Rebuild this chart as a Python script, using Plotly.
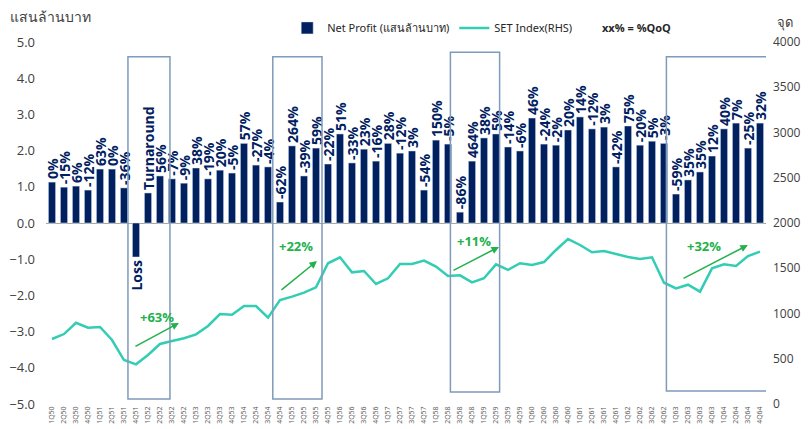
import plotly.graph_objects as go

quarters = ["1Q50","2Q50","3Q50","4Q50","1Q51","2Q51","3Q51","4Q51","1Q52","2Q52","3Q52","4Q52",
            "1Q53","2Q53","3Q53","4Q53","1Q54","2Q54","3Q54","4Q54","1Q55","2Q55","3Q55","4Q55",
            "1Q56","2Q56","3Q56","4Q56","1Q57","2Q57","3Q57","4Q57","1Q58","2Q58","3Q58","4Q58",
            "1Q59","2Q59","3Q59","4Q59","1Q60","2Q60","3Q60","4Q60","1Q61","2Q61","3Q61","4Q61",
            "1Q62","2Q62","3Q62","4Q62","1Q63","2Q63","3Q63","4Q63","1Q64","2Q64","3Q64","4Q64"]

net_profit = [1.13, 0.99, 1.02, 0.91, 1.49, 1.49, 0.97, -0.94, 0.83, 1.30, 1.22, 1.10,
              1.52, 1.22, 1.46, 1.38, 2.20, 1.60, 1.55, 0.58, 2.13, 1.30, 2.07, 1.63,
              2.46, 1.66, 2.04, 1.71, 2.20, 1.93, 1.99, 0.91, 2.29, 2.18, 0.30, 1.71,
              2.35, 2.46, 2.10, 1.99, 2.90, 2.18, 2.15, 2.57, 2.93, 2.60, 2.65, 1.55,
              2.68, 2.15, 2.26, 2.20, 0.80, 1.19, 1.41, 1.85, 2.60, 2.76, 2.07, 2.76]

qoq_labels = ["0%","-15%","6%","-12%","63%","0%","-36%","Loss","Turnaround","56%","-7%","-9%",
              "38%","-19%","20%","-5%","57%","-27%","-4%","-62%","264%","-39%","59%","-22%",
              "51%","-33%","23%","-16%","28%","-12%","3%","-54%","150%","-5%","-86%","464%",
              "38%","5%","-14%","-6%","46%","-24%","-2%","20%","14%","-12%","3%","-42%",
              "75%","-20%","5%","-3%","-59%","35%","35%","12%","40%","7%","-25%","32%"]

set_index = [718, 773, 898, 843, 851, 707, 486, 438, 541, 663, 696, 726,
             770, 862, 994, 987, 1083, 1083, 954, 1149, 1186, 1230, 1289, 1555,
             1621, 1455, 1470, 1326, 1389, 1547, 1547, 1584, 1518, 1414, 1422, 1344,
             1389, 1543, 1481, 1555, 1536, 1569, 1702, 1823, 1757, 1676, 1691, 1654,
             1624, 1602, 1621, 1340, 1278, 1318, 1241, 1499, 1543, 1525, 1635, 1683]

# highlight boxes: (x0, x1, y0, y1) in category-index / left-axis units
boxes = [(6.33, 9.83, -4.86, 4.59), (18.4, 22.5, -4.86, 4.59),
         (33.2, 37.3, -4.67, 4.72), (51.2, 59.7, -4.64, 4.59)]
# growth arrows: tail x, tail y, head x, head y, label, label x, label y
arrows = [(6.83, -3.43, 10.58, -2.76, "+63%", 8.75, -2.60),
          (19.0, -1.88, 22.08, -1.05, "+22%", 20.33, -0.64),
          (33.33, -1.33, 37.25, -0.66, "+11%", 35.17, -0.50),
          (52.5, -1.55, 57.99, -0.61, "+32%", 54.33, -0.64)]

x = list(range(len(quarters)))
navy = "#002060"
teal = "#33CDB3"
green = "#22B14C"

fig = go.Figure()
fig.add_trace(go.Bar(
    x=x, y=net_profit, name="Net Profit (แสนล้านบาท)", marker_color=navy,
    text=qoq_labels, textposition="outside", textangle=-90, constraintext="none",
    cliponaxis=False,
    textfont=dict(family="Open Sans", size=14, color=navy, weight="bold"),
))
fig.add_trace(go.Scatter(
    x=x, y=set_index, name="SET Index(RHS)", mode="lines",
    line=dict(color=teal, width=2.5), yaxis="y2",
))

for (x0, x1, y0, y1) in boxes:
    fig.add_shape(type="rect", xref="x", yref="y", x0=x0, x1=x1, y0=y0, y1=y1,
                  line=dict(color="#7F9BBB", width=1.5), fillcolor="rgba(0,0,0,0)")

for (tx, ty, hx, hy, lab, lx, ly) in arrows:
    fig.add_annotation(x=hx, y=hy, ax=tx, ay=ty, xref="x", yref="y", axref="x", ayref="y",
                       showarrow=True, arrowhead=2, arrowsize=1, arrowwidth=1.5,
                       arrowcolor=green, text="")
    fig.add_annotation(x=lx, y=ly, xref="x", yref="y", text="<b>%s</b>" % lab,
                       showarrow=False, font=dict(family="Open Sans", size=13, color=green))

fig.add_annotation(x=-0.053, y=1.102, xref="paper", yref="paper", xanchor="left", yanchor="top",
                   text="แสนล้านบาท", showarrow=False,
                   font=dict(family="Noto Sans", size=14, color="#404040"))
fig.add_annotation(x=1.0125, y=1.085, xref="paper", yref="paper", xanchor="left", yanchor="top",
                   text="จุด", showarrow=False,
                   font=dict(family="Noto Sans", size=13, color="#404040"))
fig.add_annotation(x=0.769, y=1.039, xref="paper", yref="paper", xanchor="left", yanchor="middle",
                   text="<b>xx% = %QoQ</b>", showarrow=False,
                   font=dict(family="Open Sans", size=11, color="#262626"))

fig.update_layout(
    width=811, height=429,
    margin=dict(l=46, r=45, t=42, b=25, autoexpand=False),
    plot_bgcolor="white", paper_bgcolor="white",
    bargap=0.4,
    showlegend=True,
    legend=dict(orientation="h", x=0.335, y=1.039, xanchor="left", yanchor="middle",
                font=dict(family="Noto Sans", size=11, color="#262626"),
                itemwidth=30, bgcolor="rgba(0,0,0,0)"),
    xaxis=dict(range=[-0.5, 59.5], tickmode="array", tickvals=x, ticktext=quarters,
               tickangle=-90, tickfont=dict(family="Open Sans", size=7, color="#595959"),
               showgrid=False, showline=False, ticks="", automargin=False),
    yaxis=dict(range=[-5, 5], dtick=1, tickformat=".1f", showgrid=False, zeroline=True,
               zerolinecolor="#A6A6A6", zerolinewidth=1, showline=False,
               tickfont=dict(family="Open Sans", size=13, color="#404040"),
               ticklabelstandoff=10, automargin=False),
    yaxis2=dict(range=[0, 4000], dtick=500, overlaying="y", side="right", showgrid=False,
                zeroline=False, showline=False,
                tickfont=dict(family="Open Sans", size=12, color="#404040"),
                ticklabelstandoff=6, automargin=False),
)

fig.write_html("out.html", config={"displayModeBar": False},
               post_script="document.body.style.margin='0';document.body.style.overflow='hidden';")
